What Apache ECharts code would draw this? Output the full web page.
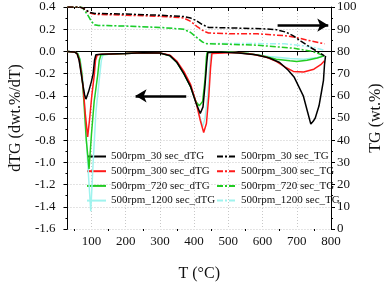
<!DOCTYPE html>
<html><head><meta charset="utf-8">
<script src="https://cdn.jsdelivr.net/npm/echarts@6/dist/echarts.min.js"></script>
<style>html,body{margin:0;padding:0;background:#fff}#c{width:392px;height:287px}</style>
</head><body><div id="c"></div>
<script>
// ---- data ----
const dtgNames = ['500rpm_30 sec_dTG','500rpm_300 sec_dTG','500rpm_720 sec_dTG','500rpm_1200 sec_dTG'];
const tgNames  = ['500rpm_30 sec_TG','500rpm_300 sec_TG','500rpm_720 sec_TG','500rpm_1200 sec_TG'];
const colors = ['#000000','#ff1a1a','#22cc22','#9ff3ee'];

const dtg30 = [[30,0],[50,-0.005],[58,-0.02],[64,-0.08],[70,-0.2],[76,-0.32],[80,-0.39],[84,-0.43],[92,-0.36],[100,-0.27],[105,-0.2],[109,-0.08],[113,-0.03],[130,-0.025],[200,-0.02],[250,-0.012],[300,-0.015],[330,-0.04],[350,-0.1],[370,-0.2],[390,-0.32],[405,-0.46],[418,-0.56],[426,-0.5],[432,-0.3],[437,-0.1],[440,-0.01],[480,-0.005],[530,-0.015],[580,-0.03],[620,-0.06],[650,-0.1],[675,-0.17],[692,-0.23],[719,-0.4],[732,-0.55],[741,-0.655],[748,-0.63],[754,-0.6],[765,-0.49],[773,-0.35],[778,-0.26],[781,-0.12],[784,-0.04]];
const dtg300 = [[30,0],[50,-0.005],[58,-0.02],[64,-0.07],[70,-0.18],[76,-0.33],[82,-0.56],[89,-0.77],[95,-0.6],[101,-0.4],[108,-0.22],[112,-0.08],[117,-0.03],[130,-0.025],[200,-0.02],[250,-0.012],[300,-0.015],[330,-0.035],[350,-0.09],[370,-0.18],[390,-0.3],[405,-0.45],[418,-0.62],[428,-0.73],[436,-0.65],[443,-0.4],[448,-0.15],[452,-0.02],[520,-0.01],[570,-0.025],[610,-0.05],[640,-0.09],[665,-0.14],[690,-0.18],[720,-0.185],[750,-0.16],[770,-0.12],[781,-0.085]];
const dtg720 = [[30,0],[50,-0.005],[60,-0.02],[66,-0.07],[72,-0.2],[78,-0.45],[85,-0.8],[93,-1.06],[100,-0.75],[108,-0.45],[118,-0.22],[123,-0.08],[128,-0.03],[150,-0.025],[200,-0.02],[250,-0.012],[300,-0.015],[330,-0.04],[350,-0.1],[370,-0.2],[390,-0.32],[405,-0.45],[415,-0.49],[425,-0.45],[432,-0.25],[436,-0.05],[438,-0.01],[500,-0.005],[560,-0.02],[600,-0.04],[640,-0.07],[680,-0.085],[700,-0.09],[730,-0.08],[760,-0.06],[780,-0.04]];
const dtg1200 = [[30,0],[50,-0.005],[60,-0.02],[67,-0.07],[74,-0.22],[81,-0.55],[89,-1.0],[98,-1.44],[105,-1.0],[113,-0.55],[124,-0.22],[129,-0.08],[134,-0.03],[150,-0.025],[200,-0.02],[250,-0.012],[300,-0.015],[330,-0.04],[350,-0.1],[370,-0.2],[390,-0.32],[405,-0.45],[418,-0.6],[425,-0.68],[432,-0.6],[440,-0.4],[445,-0.15],[449,-0.02],[500,-0.005],[560,-0.02],[620,-0.045],[680,-0.065],[720,-0.07],[760,-0.055],[780,-0.04]];

const tg30 = [[30,100],[65,100],[75,99.5],[85,98.5],[95,97.6],[110,97.1],[200,96.8],[300,96.3],[370,95.7],[390,95],[405,94],[423,92.2],[442,90.8],[500,90.6],[600,90.2],[640,89.8],[668,88.7],[690,87],[713,84.5],[740,81.8],[760,80],[781,78]];
const tg300 = [[30,100],[65,100],[75,99.5],[85,98.5],[95,97.3],[110,96.7],[200,96.3],[300,95.8],[369,95.1],[390,93.5],[410,91],[430,89],[442,88.3],[500,88],[585,87.9],[665,87.1],[700,86.2],[733,85],[781,83.4]];
const tg720 = [[30,100],[65,100],[73,99.8],[80,98.5],[92,95.7],[100,93.5],[109,92],[120,91.7],[200,91.4],[300,90.8],[369,90],[390,88.5],[410,86],[425,84.2],[436,83.5],[500,83.2],[585,82.8],[692,81.4],[746,80],[781,78]];
const tg1200 = [[30,100],[65,100],[73,99.8],[80,98.5],[92,95.7],[100,93.5],[109,92],[120,91.7],[200,91.4],[300,90.8],[369,90],[390,88.5],[410,86],[425,84.2],[436,83.6],[500,83.6],[600,83.5],[665,83.4],[720,82.5],[750,81.8],[781,80.5]];

const xMajor = [100,200,300,400,500,600,700,800];
const xMinor = [50,150,250,350,450,550,650,750];
const leftArrow = [[377,-0.4],[229,-0.4]];
const rightArrow = [[644,91.8],[792,91.8]];

// ---- chart ----
const FONT = '"Liberation Serif", "Times New Roman", serif';
const chart = echarts.init(document.getElementById('c'), null, {renderer:'canvas'});
const mkX = (o) => Object.assign({type:'value', min:30, max:800, gridIndex:0,
  axisLabel:{show:false}, axisLine:{show:false}, splitLine:{show:false}, axisTick:{show:false}}, o);

const dtgData = [dtg30, dtg300, dtg720, dtg1200];
const tgData = [tg30, tg300, tg720, tg1200];
const series = [];
dtgData.forEach((d,i)=>series.push({name:dtgNames[i], type:'line', data:d, xAxisIndex:0, yAxisIndex:0,
  symbol:'none', lineStyle:{color:colors[i], width:1.5}, itemStyle:{color:colors[i]}, z:10-i}));
tgData.forEach((d,i)=>series.push({name:tgNames[i], type:'line', data:d, xAxisIndex:0, yAxisIndex:1,
  symbol:'none', lineStyle:{color:colors[i], width:1.5, type:[6,2,2,2]}, itemStyle:{color:colors[i]}, z:10-i}));
// arrows
series[0].markLine = {silent:true, symbol:['none','arrow'], symbolSize:[10,11], label:{show:false},
  lineStyle:{color:'#000', width:2.5, type:'solid'}, data:[[{coord:leftArrow[0]},{coord:leftArrow[1]}]]};
series[4].markLine = {silent:true, symbol:['none','arrow'], symbolSize:[10,11], label:{show:false},
  lineStyle:{color:'#000', width:2.5, type:'solid'}, data:[[{coord:rightArrow[0]},{coord:rightArrow[1]}]]};

const legendText = {fontFamily:FONT, fontSize:11, color:'#111'};
const legendBase = {orient:'vertical', top:151, itemWidth:19, itemHeight:10, itemGap:3.7,
  textStyle:legendText, padding:0, itemStyle:{opacity:0}};
chart.setOption({
  animation:false,
  backgroundColor:'#fff',
  grid:{left:54, right:51, top:7, bottom:48},
  legend:[
    Object.assign({data:dtgNames, left:86}, legendBase),
    Object.assign({data:tgNames, left:216}, legendBase)
  ],
  xAxis:[
    mkX({position:'bottom', axisLine:{show:true, lineStyle:{color:'#000', width:1}},
      axisTick:{show:true, customValues:xMajor, length:4, lineStyle:{color:'#000'}},
      axisLabel:{show:true, customValues:xMajor, margin:6, fontFamily:FONT, fontSize:13, color:'#111'},
      splitLine:{show:true, lineStyle:{color:'#c8c8c8', type:[1,2], width:1}},
      name:'T (°C)', nameLocation:'middle', nameGap:37, nameTextStyle:{fontFamily:FONT, fontSize:16, color:'#111'}}),
    mkX({position:'bottom', axisTick:{show:true, customValues:xMinor, length:2, lineStyle:{color:'#000'}}}),
    mkX({position:'top', axisLine:{show:true, lineStyle:{color:'#000', width:1}},
      axisTick:{show:true, inside:true, customValues:xMajor, length:4, lineStyle:{color:'#000'}}}),
    mkX({position:'top', axisTick:{show:true, inside:true, customValues:xMinor, length:2, lineStyle:{color:'#000'}}})
  ],
  yAxis:[
    {type:'value', position:'left', min:-1.6, max:0.4, interval:0.2,
     axisLine:{show:true, lineStyle:{color:'#000'}},
     axisTick:{show:true, length:4, lineStyle:{color:'#000'}},
     minorTick:{show:true, splitNumber:2, length:2, lineStyle:{color:'#000'}},
     splitLine:{show:true, lineStyle:{color:'#c8c8c8', type:[1,2], width:1}},
     axisLabel:{margin:12, fontFamily:FONT, fontSize:13, color:'#111', formatter:v=>v.toFixed(1)},
     name:'dTG (dwt.%/dT)', nameLocation:'middle', nameGap:40, nameRotate:90,
     nameTextStyle:{fontFamily:FONT, fontSize:16, color:'#111'}},
    {type:'value', position:'right', min:0, max:100, interval:10,
     axisLine:{show:true, lineStyle:{color:'#000'}},
     axisTick:{show:true, length:4, lineStyle:{color:'#000'}},
     minorTick:{show:true, splitNumber:2, length:2, lineStyle:{color:'#000'}},
     splitLine:{show:false},
     axisLabel:{margin:6, fontFamily:FONT, fontSize:13, color:'#111'},
     name:'TG (wt.%)', nameLocation:'middle', nameGap:37, nameRotate:90,
     nameTextStyle:{fontFamily:FONT, fontSize:16, color:'#111'}}
  ],
  series:series
});
</script></body></html>
